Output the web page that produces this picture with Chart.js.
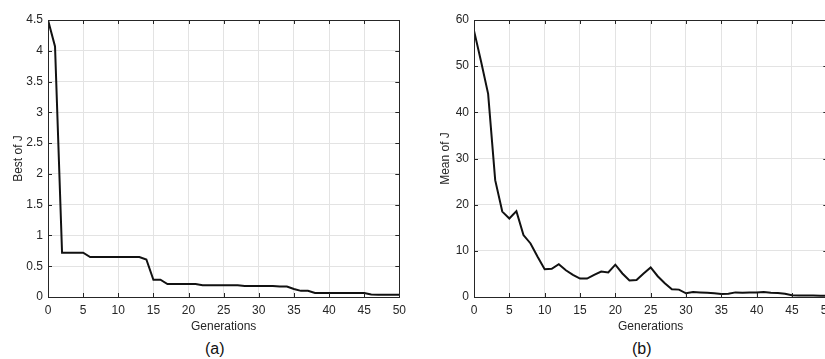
<!DOCTYPE html>
<html><head><meta charset="utf-8">
<script src="https://cdn.jsdelivr.net/npm/chart.js@4/dist/chart.umd.min.js"></script>
<style>
html,body{margin:0;padding:0;background:#fff;width:825px;height:359px;overflow:hidden;position:relative;font-family:"Liberation Sans",Arial,sans-serif}
#wa{position:absolute;left:0;top:0;width:412px;height:340px}
#wb{position:absolute;left:420px;top:0;width:420px;height:340px}
.cap{position:absolute;top:340px;font-size:16px;color:#111}
</style></head><body>
<div id="wa"><canvas id="ca"></canvas></div>
<div id="wb"><canvas id="cb"></canvas></div>
<div class="cap" style="left:205px">(a)</div>
<div class="cap" style="left:632px">(b)</div>
<script>
const generations = [0,1,2,3,4,5,6,7,8,9,10,11,12,13,14,15,16,17,18,19,20,21,22,23,24,25,26,27,28,29,30,31,32,33,34,35,36,37,38,39,40,41,42,43,44,45,46,47,48,49,50];
const bestJ = [4.5,4.07,0.72,0.72,0.72,0.72,0.65,0.65,0.65,0.65,0.65,0.65,0.65,0.65,0.61,0.28,0.28,0.21,0.21,0.21,0.21,0.21,0.19,0.19,0.19,0.19,0.19,0.19,0.18,0.18,0.18,0.18,0.18,0.17,0.17,0.13,0.10,0.10,0.065,0.065,0.065,0.065,0.065,0.065,0.065,0.065,0.04,0.035,0.035,0.035,0.035];
const meanJ = [57.7,51,44,25.3,18.5,17.0,18.6,13.4,11.6,8.7,6.0,6.1,7.1,5.8,4.8,4.0,4.0,4.8,5.5,5.3,7.0,5.1,3.6,3.7,5.1,6.4,4.5,3.0,1.7,1.6,0.8,1.1,1.0,0.9,0.8,0.65,0.7,1.0,0.9,1.0,0.95,1.1,0.9,0.85,0.7,0.4,0.35,0.35,0.3,0.28,0.25];
const xTicks = [0,5,10,15,20,25,30,35,40,45,50];
const yTicksA = [0,0.5,1,1.5,2,2.5,3,3.5,4,4.5];
const yTicksB = [0,10,20,30,40,50,60];
const xTitle = "Generations";
const yTitleA = "Best of J";
const yTitleB = "Mean of J";

const AX = '#262626';
const boxPlugin = {
  id:'box',
  afterDatasetsDraw(chart){
    const {ctx, chartArea:a, scales} = chart;
    ctx.save();
    ctx.strokeStyle = AX; ctx.lineWidth = 1;
    ctx.beginPath();
    scales.x.ticks.forEach(t=>{
      const px = Math.round(scales.x.getPixelForValue(t.value))+0.5;
      if (px > a.left+1 && px < a.right-1){
        ctx.moveTo(px,a.bottom); ctx.lineTo(px,a.bottom-4);
        ctx.moveTo(px,a.top); ctx.lineTo(px,a.top+4);
      }
    });
    scales.y.ticks.forEach(t=>{
      const py = Math.round(scales.y.getPixelForValue(t.value))+0.5;
      if (py > a.top+1 && py < a.bottom-1){
        ctx.moveTo(a.left,py); ctx.lineTo(a.left+4,py);
        ctx.moveTo(a.right,py); ctx.lineTo(a.right-4,py);
      }
    });
    ctx.stroke();
    ctx.strokeRect(Math.round(a.left)+0.5, Math.round(a.top)+0.5, Math.round(a.right-a.left), Math.round(a.bottom-a.top));
    ctx.restore();
  }
};

function makeChart(id, values, yTicks, yMax, yTitle, yWidth, padRight, titlePad){
  return new Chart(document.getElementById(id), {
    type:'line',
    data:{datasets:[{data: generations.map((g,i)=>({x:g,y:values[i]})), borderColor:'#111', borderWidth:2, pointRadius:0, tension:0, fill:false}]},
    options:{
      responsive:true, maintainAspectRatio:false, animation:false,
      layout:{padding:{top:20,right:padRight,left:0,bottom:6}},
      plugins:{legend:{display:false}, tooltip:{enabled:false}},
      scales:{
        x:{type:'linear', min:0, max:50,
           afterBuildTicks(s){ s.ticks = xTicks.map(v=>({value:v})); },
           afterFit(s){ s.height = 37; },
           grid:{color:'#e3e3e3', drawTicks:false},
           border:{display:false},
           ticks:{padding:6, color:AX, font:{family:'"Liberation Sans", Arial', size:12}, maxRotation:0},
           title:{display:true, text:xTitle, color:AX, font:{family:'"Liberation Sans", Arial', size:12}, padding:{top:1,bottom:0}}
        },
        y:{type:'linear', min:0, max:yMax,
           afterBuildTicks(s){ s.ticks = yTicks.map(v=>({value:v})); },
           afterFit(s){ s.width = yWidth; },
           grid:{color:'#e3e3e3', drawTicks:false},
           border:{display:false},
           ticks:{padding:5, color:AX, font:{family:'"Liberation Sans", Arial', size:12}, callback:(v)=>String(v)},
           title:{display:true, text:yTitle, color:AX, font:{family:'"Liberation Sans", Arial', size:12}, padding:{top:titlePad,bottom:0}}
        }
      }
    },
    plugins:[boxPlugin]
  });
}
makeChart('ca', bestJ, yTicksA, 4.5, yTitleA, 48, 12, 11);
makeChart('cb', meanJ, yTicksB, 60, yTitleB, 54, 12, 18);
</script>
</body></html>
